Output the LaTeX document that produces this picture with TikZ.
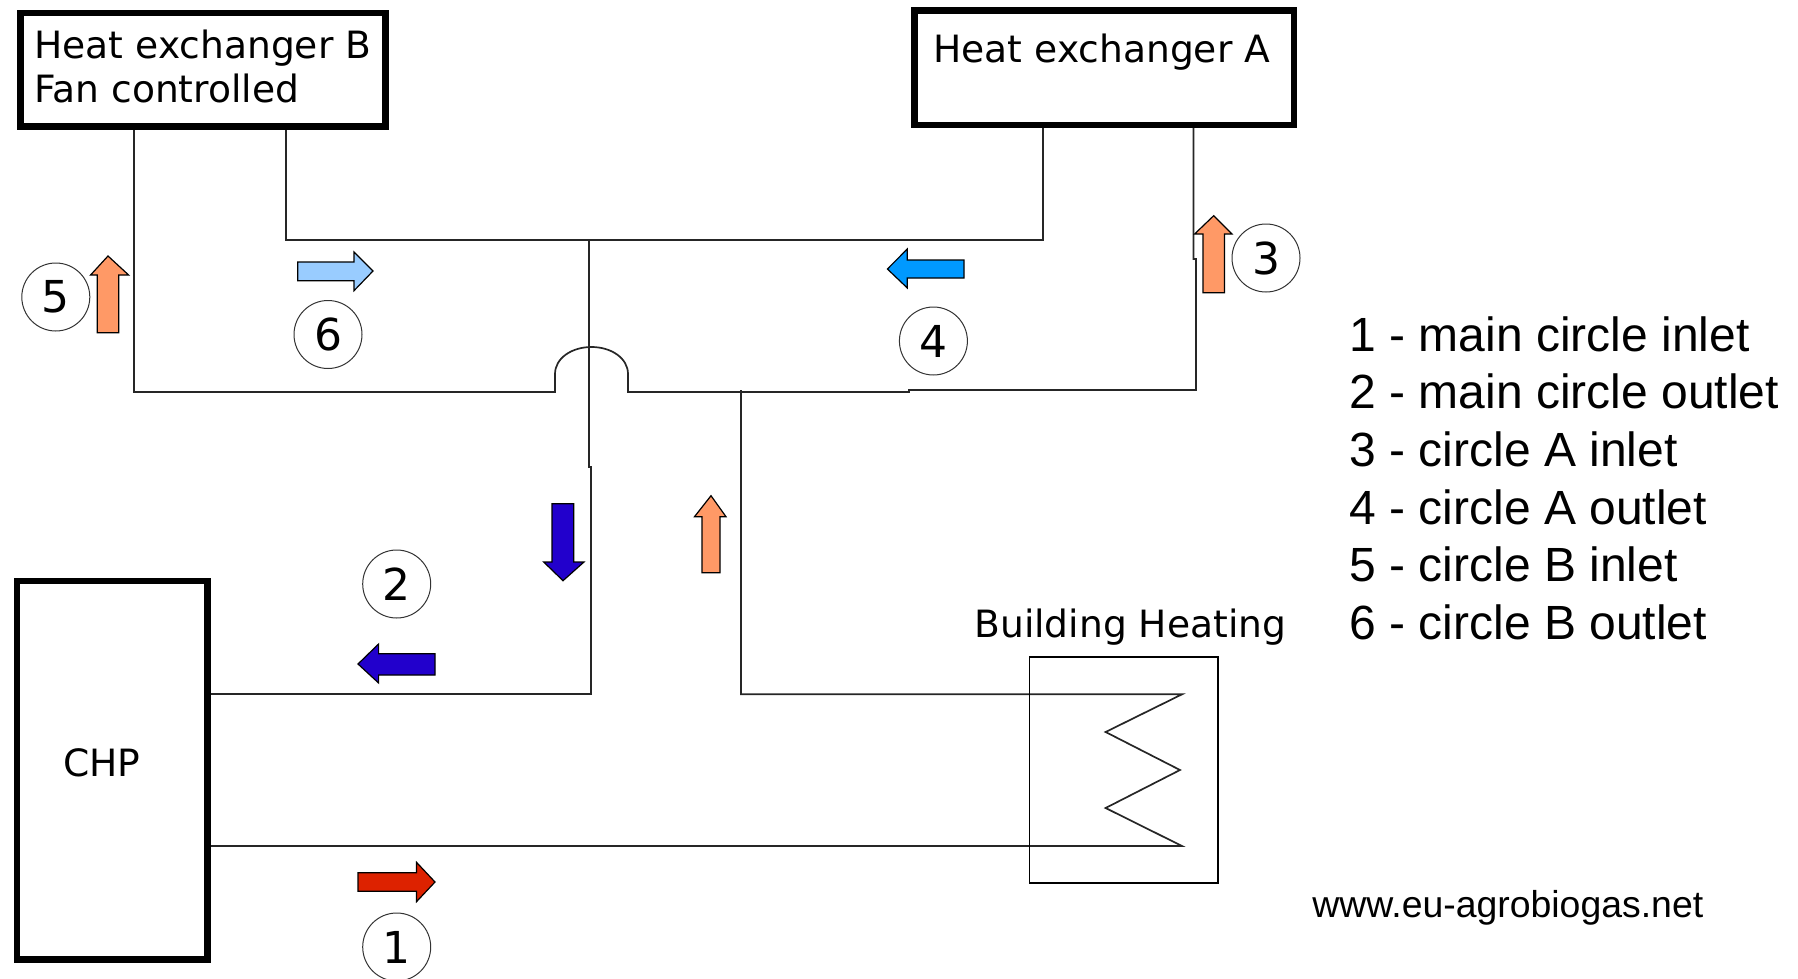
\documentclass[tikz,border=0pt]{standalone}
\usepackage{fontspec}
\setmainfont{Liberation Sans}
\newfontfamily\vera{DejaVu Sans}
\tikzset{
  px/.style={x=0.5pt,y=-0.5pt},
  heavybox/.style={draw=black,line width=3.25pt,fill=white,inner sep=0pt,outer sep=0pt,anchor=north west,line join=miter},
  thinbox/.style={draw=black,line width=0.9pt,inner sep=0pt,outer sep=0pt,anchor=north west},
  pipe/.style={draw=black!85,line width=0.85pt,line join=miter},
  flow/.style={draw=black,line width=0.6pt,line join=miter},
  numcircle/.style={circle,draw=black!80,fill=white,line width=0.5pt,minimum size=34pt,inner sep=0pt,font=\vera\fontsize{22}{24}\selectfont},
  boxtext/.style={font=\vera\fontsize{18.8}{22}\selectfont,anchor=base west,inner sep=0pt},
  legend/.style={font=\fontsize{24}{28}\selectfont,anchor=base west,inner sep=0pt},
}
\definecolor{orangeflow}{HTML}{FF9966}
\definecolor{lightflow}{HTML}{99CCFF}
\definecolor{midflow}{HTML}{0099FF}
\definecolor{darkflow}{HTML}{2200CC}
\definecolor{redflow}{HTML}{DD2200}
\begin{document}
\begin{tikzpicture}[px]
\clip (0,0) rectangle (1798,979);
\useasboundingbox (0,0) rectangle (1798,979);
% pipes first, boxes on top
\coordinate (bl) at (134,128);
\coordinate (bllow) at (134,392);
\coordinate (bridgeL) at (555,392);
\coordinate (bridgeR) at (628,392);
\coordinate (step) at (909,392);
\coordinate (aelbow) at (1196,390);
\coordinate (ajog) at (1196,259);
\coordinate (ajog2) at (1193.5,259);
\coordinate (ar) at (1193.5,126);
\coordinate (br) at (286,128);
\coordinate (brlow) at (286,240);
\coordinate (alow) at (1043,240);
\coordinate (al) at (1043,126);
\coordinate (ctop) at (589,240);
\coordinate (cjog) at (589,467);
\coordinate (cjog2) at (591,467);
\coordinate (celbow) at (591,694.3);
\coordinate (retT) at (741,390);
\coordinate (retE) at (741,694.3);
\coordinate (z0) at (1182,694.3);
\coordinate (z1) at (1105.6,732);
\coordinate (z2) at (1180,770);
\coordinate (z3) at (1105.6,808);
\coordinate (z4) at (1182,846);
\coordinate (chpU) at (208,694.3);
\coordinate (chpL) at (208,846);
\draw[pipe] (bl) -- (bllow) -- (bridgeL) -- (555,374) .. controls (555,358) and (572,347) .. (591.5,347) .. controls (611,347) and (628,358) .. (628,374) -- (bridgeR) -- (step) -- (909,390) -- (aelbow) -- (ajog) -- (ajog2) -- (ar);
\draw[pipe] (br) -- (brlow) -- (alow) -- (al);
\draw[pipe] (ctop) -- (cjog) -- (cjog2) -- (celbow) -- (chpU);
\draw[pipe] (retT) -- (retE) -- (z0) -- (z1) -- (z2) -- (z3) -- (z4) -- (chpL);
% boxes
\node[heavybox,minimum width=182.5pt,minimum height=56.75pt] (boxB) at (20.3,13) {};
\node[heavybox,minimum width=189.75pt,minimum height=57.25pt] (boxA) at (914.5,10.5) {};
\node[heavybox,minimum width=95.25pt,minimum height=189.25pt] (chp) at (17,581) {};
\node[thinbox,minimum width=94.3pt,minimum height=113pt] (heater) at (1029.4,656.7) {};
% box texts
\node[boxtext] (tB1) at (34,59) {\vera Heat exchanger B};
\node[boxtext] (tB2) at (34,103) {\vera Fan controlled};
\node[boxtext] (tA) at (933,63) {\vera Heat exchanger A};
\node[boxtext] (tC) at (63,776) {\vera CHP};
\node[boxtext] (tH) at (974,637) {\vera Building Heating};
% flow arrows
\fill[orangeflow,flow] (108,256) -- (128.6,275) -- (118.8,275) -- (118.8,332.7) -- (97.3,332.7) -- (97.3,275) -- (90.6,275) -- cycle;
\fill[lightflow,flow] (373,271) -- (354,290.7) -- (354,280.7) -- (297.8,280.7) -- (297.8,262) -- (354,262) -- (354,252) -- cycle;
\fill[midflow,flow] (887.4,269) -- (907.3,288) -- (907.3,278) -- (964,278) -- (964,260) -- (907.3,260) -- (907.3,249) -- cycle;
\fill[orangeflow,flow] (1213.7,215.7) -- (1232,234) -- (1224.5,234) -- (1224.5,292.7) -- (1203,292.7) -- (1203,234) -- (1194.6,234) -- cycle;
\fill[darkflow,flow] (563,580.7) -- (584,562) -- (573.7,562) -- (573.7,503.7) -- (552,503.7) -- (552,562) -- (543.7,562) -- cycle;
\fill[darkflow,flow] (358,664) -- (378.6,683) -- (378.6,675) -- (435,675) -- (435,653.7) -- (378.6,653.7) -- (378.6,644) -- cycle;
\fill[redflow,flow] (435,882) -- (416.5,901.7) -- (416.5,891.3) -- (358,891.3) -- (358,872.7) -- (416.5,872.7) -- (416.5,862.3) -- cycle;
\fill[orangeflow,flow] (711,495.7) -- (726,516.7) -- (720,516.7) -- (720,572.7) -- (702,572.7) -- (702,516.7) -- (694.5,516.7) -- cycle;
% number circles
\node[numcircle] (n1) at (396.7,947) {1};
\node[numcircle] (n2) at (396.7,584) {2};
\node[numcircle] (n3) at (1266,258) {3};
\node[numcircle] (n4) at (933.4,341) {4};
\node[numcircle] (n5) at (55.8,297) {5};
\node[numcircle] (n6) at (328,334.5) {6};
% legend
\node[legend] (l1) at (1349,351) {1 - main circle inlet};
\node[legend] (l2) at (1349,408.5) {2 - main circle outlet};
\node[legend] (l3) at (1349,466) {3 - circle A inlet};
\node[legend] (l4) at (1349,524) {4 - circle A outlet};
\node[legend] (l5) at (1349,581.5) {5 - circle B inlet};
\node[legend] (l6) at (1349,639) {6 - circle B outlet};
\node[anchor=base west,inner sep=0pt,font=\fontsize{18.7}{22}\selectfont] (web) at (1312,917) {www.eu-agrobiogas.net};
\end{tikzpicture}
\end{document}
